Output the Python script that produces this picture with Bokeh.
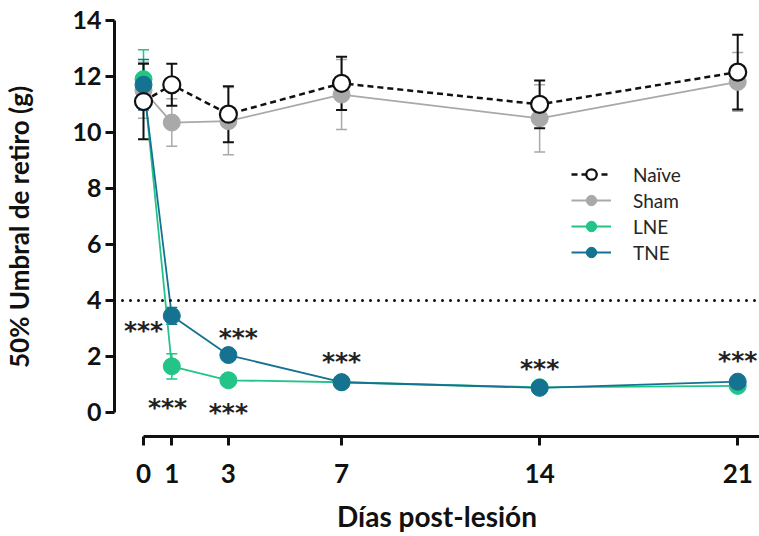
from bokeh.plotting import figure
from bokeh.models import Range1d, Span, Whisker, ColumnDataSource, Legend, LegendItem, FixedTicker, TeeHead
from bokeh.core.properties import value
from bokeh.embed import file_html
from bokeh.resources import INLINE

days = [0, 1, 3, 7, 14, 21]
naive = [11.1, 11.7, 10.65, 11.75, 11.0, 12.15]
naive_err = [1.35, 0.75, 1.0, 0.95, 0.85, 1.33]
sham = [11.5, 10.35, 10.4, 11.35, 10.5, 11.8]
sham_err = [1.0, 0.85, 1.2, 1.25, 1.2, 1.05]
lne = [11.9, 1.65, 1.15, 1.08, 0.9, 0.95]
lne_err = [1.05, 0.45, 0.1, 0.1, 0.1, 0.1]
tne = [11.7, 3.45, 2.05, 1.08, 0.88, 1.1]
tne_err = [0.9, 0.3, 0.15, 0.1, 0.1, 0.1]
star_x = [0.0, 3.35, 0.85, 3.0, 7.0, 14.0, 21.0]
star_y = [3.1, 2.86, 0.36, 0.18, 2.0, 1.75, 2.05]
threshold = 4
x_ticks = [0, 1, 3, 7, 14, 21]
y_ticks = [0, 2, 4, 6, 8, 10, 12, 14]

FONT = "Lato"
BLACK = "#111111"
GREY = "#a9a9a9"
GREEN = "#22c487"
TEAL = "#157290"

p = figure(width=759, height=536, x_range=Range1d(-1.025, 21.77), y_range=Range1d(-0.857, 14.1),
           output_backend="svg", toolbar_location=None,
           min_border_left=114, min_border_right=0, min_border_top=17, min_border_bottom=100)
p.outline_line_color = None
p.xgrid.visible = False
p.ygrid.visible = False

for ax, b in ((p.xaxis[0], (0, 21.8)), (p.yaxis[0], (0, 14))):
    ax.bounds = b
    ax.axis_line_width = 3
    ax.axis_line_color = BLACK
    ax.major_tick_line_width = 3
    ax.major_tick_line_color = BLACK
    ax.major_tick_out = 9
    ax.major_tick_in = 0
    ax.minor_tick_line_color = None
    ax.major_label_text_font = FONT
    ax.major_label_text_font_style = "bold"
    ax.major_label_text_color = BLACK
    ax.axis_label_text_font = FONT
    ax.axis_label_text_font_style = "bold"
    ax.axis_label_text_color = BLACK

p.xaxis.ticker = FixedTicker(ticks=x_ticks)
p.yaxis.ticker = FixedTicker(ticks=y_ticks)
p.xaxis.major_label_text_font_size = "26px"
p.yaxis.major_label_text_font_size = "25px"
p.xaxis.major_label_standoff = 18
p.yaxis.major_label_standoff = 4
p.xaxis.axis_label = "Días post-lesión"
p.yaxis.axis_label = "50% Umbral de retiro (g)"
p.xaxis.axis_label_text_font_size = "28px"
p.yaxis.axis_label_text_font_size = "26px"
p.xaxis.axis_label_standoff = 13
p.yaxis.axis_label_standoff = 34

p.add_layout(Span(location=threshold, dimension="width", line_color=BLACK, line_width=3,
                  line_dash="0 8", line_cap="round"))

def errbars(vals, errs, color, lw):
    src = ColumnDataSource(dict(x=days, lo=[v - e for v, e in zip(vals, errs)], hi=[v + e for v, e in zip(vals, errs)]))
    w = Whisker(source=src, base="x", lower="lo", upper="hi", line_color=color, line_width=lw,
                upper_head=TeeHead(size=11, line_color=color, line_width=lw),
                lower_head=TeeHead(size=11, line_color=color, line_width=lw))
    p.add_layout(w)

errbars(sham, sham_err, GREY, 1.5)
errbars(lne, lne_err, GREEN, 1.5)
errbars(tne, tne_err, TEAL, 1.5)
errbars(naive, naive_err, BLACK, 2)

rs_l = p.line(days, sham, line_color=GREY, line_width=1.8)
rs_s = p.scatter(days, sham, size=17, fill_color=GREY, line_color=GREY)
rl_l = p.line(days, lne, line_color=GREEN, line_width=1.8)
rl_s = p.scatter(days, lne, size=17, fill_color=GREEN, line_color=GREEN)
rt_l = p.line(days, tne, line_color=TEAL, line_width=1.8)
rt_s = p.scatter(days, tne, size=17, fill_color=TEAL, line_color=TEAL)
rn_l = p.line(days, naive, line_color=BLACK, line_width=2.5, line_dash="6 4")
rn_s = p.scatter(days, naive, size=17, fill_color="white", line_color=BLACK, line_width=2.2)

p.text(x=star_x, y=star_y, text=["***"] * len(star_x), text_font=value("DejaVu Sans"), text_font_size="25px",
       text_font_style="bold", text_color="#222222", text_align="center", text_baseline="alphabetic", y_offset=5)

legend = Legend(items=[
    LegendItem(label="Naïve", renderers=[rn_l, rn_s]),
    LegendItem(label="Sham", renderers=[rs_l, rs_s]),
    LegendItem(label="LNE", renderers=[rl_l, rl_s]),
    LegendItem(label="TNE", renderers=[rt_l, rt_s]),
], location=(457, 171), border_line_color=None, background_fill_alpha=0,
    label_text_font=FONT, label_text_font_size="19px", label_text_color="#262626",
    glyph_width=40, glyph_height=26, label_height=26, spacing=0, padding=0, label_standoff=22)
p.add_layout(legend)

open("out.html", "w").write(file_html(p, INLINE))
